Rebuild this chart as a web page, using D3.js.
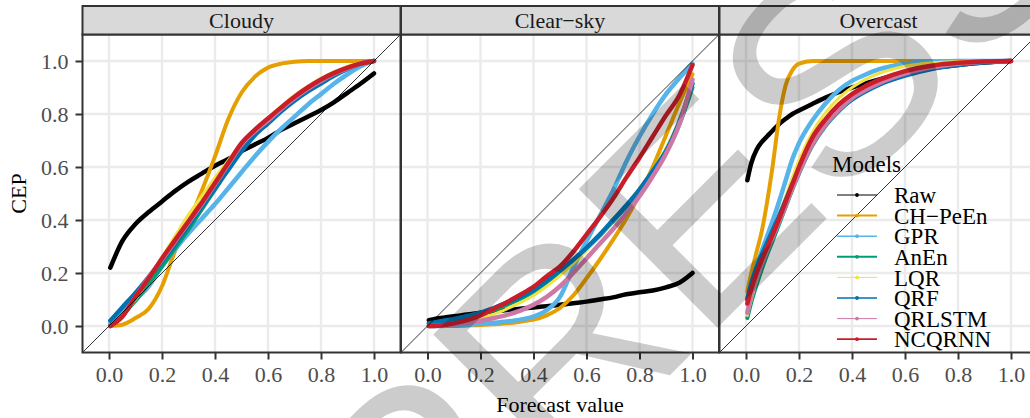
<!DOCTYPE html>
<html lang="en">
<head>
<meta charset="utf-8">
<title>CEP curves by sky condition</title>
<script src="https://cdn.jsdelivr.net/npm/d3@7"></script>
<style>
body { margin: 0; background: #fff; }
text { font-family: "Liberation Serif", "Times New Roman", serif; }
</style>
</head>
<body>
<script>

// facets and models
var facets = ["Cloudy", "Clear\u2212sky", "Overcast"];
var models = ["Raw", "CH\u2212PeEn", "GPR", "AnEn", "LQR", "QRF", "QRLSTM", "NCQRNN"];
var xTicks = [0, 0.2, 0.4, 0.6, 0.8, 1.0];
var yTicks = [0, 0.2, 0.4, 0.6, 0.8, 1.0];

// forecast values (x) for each facet
var xCloudy = [0.005, 0.05, 0.1, 0.15, 0.2, 0.25, 0.3, 0.35, 0.4, 0.45, 0.5, 0.55, 0.6, 0.65, 0.7, 0.75, 0.8, 0.85, 0.9, 0.95, 1.0];
var xClear = [0.005, 0.05, 0.1, 0.15, 0.2, 0.25, 0.3, 0.35, 0.4, 0.45, 0.5, 0.55, 0.6, 0.65, 0.7, 0.75, 0.8, 0.85, 0.9, 0.95, 1.0];
var xOvercast = [0.005, 0.02, 0.04, 0.06, 0.08, 0.1, 0.125, 0.15, 0.175, 0.2, 0.25, 0.3, 0.35, 0.4, 0.45, 0.5, 0.6, 0.7, 0.8, 0.9, 1.0];

// CEP values, Cloudy
var cloudyRaw    = [0.22, 0.32, 0.385, 0.43, 0.47, 0.51, 0.545, 0.575, 0.605, 0.63, 0.66, 0.685, 0.71, 0.74, 0.765, 0.79, 0.815, 0.845, 0.88, 0.915, 0.953];
var cloudyCH     = [0.0, 0.005, 0.03, 0.065, 0.15, 0.285, 0.39, 0.51, 0.64, 0.78, 0.88, 0.94, 0.975, 0.99, 0.997, 1, 1, 1, 1, 1, 1];
var cloudyGPR    = [0.01, 0.05, 0.1, 0.15, 0.225, 0.29, 0.35, 0.405, 0.46, 0.52, 0.58, 0.64, 0.695, 0.745, 0.79, 0.835, 0.875, 0.915, 0.95, 0.98, 1.0];
var cloudyAnEn   = [0.0, 0.04, 0.095, 0.16, 0.225, 0.295, 0.365, 0.44, 0.515, 0.59, 0.66, 0.72, 0.77, 0.815, 0.855, 0.89, 0.92, 0.95, 0.972, 0.99, 1.0];
var cloudyLQR    = [0.005, 0.04, 0.1, 0.18, 0.26, 0.34, 0.42, 0.49, 0.56, 0.625, 0.69, 0.74, 0.785, 0.83, 0.87, 0.905, 0.935, 0.96, 0.98, 0.993, 1.0];
var cloudyQRF    = [0.02, 0.07, 0.125, 0.185, 0.245, 0.31, 0.38, 0.45, 0.52, 0.59, 0.66, 0.72, 0.765, 0.81, 0.85, 0.885, 0.915, 0.945, 0.97, 0.99, 1.0];
var cloudyQRLSTM = [0.0, 0.04, 0.11, 0.185, 0.25, 0.32, 0.39, 0.46, 0.535, 0.61, 0.685, 0.735, 0.775, 0.82, 0.86, 0.895, 0.925, 0.952, 0.972, 0.99, 1.0];
var cloudyNCQRNN = [0.0, 0.035, 0.11, 0.18, 0.255, 0.325, 0.395, 0.465, 0.54, 0.615, 0.69, 0.74, 0.783, 0.825, 0.865, 0.9, 0.93, 0.955, 0.975, 0.99, 1.0];

// CEP values, Clear-sky
var clearRaw    = [0.022, 0.03, 0.037, 0.043, 0.05, 0.055, 0.06, 0.065, 0.07, 0.075, 0.08, 0.086, 0.092, 0.1, 0.108, 0.12, 0.127, 0.134, 0.146, 0.163, 0.2];
var clearCH     = [0, 0, 0, 0.002, 0.004, 0.007, 0.01, 0.016, 0.024, 0.04, 0.068, 0.115, 0.18, 0.25, 0.325, 0.405, 0.495, 0.6, 0.72, 0.84, 0.95];
var clearGPR    = [0, 0, 0.002, 0.005, 0.008, 0.012, 0.017, 0.024, 0.035, 0.06, 0.11, 0.22, 0.32, 0.415, 0.51, 0.62, 0.715, 0.8, 0.875, 0.935, 0.99];
var clearAnEn   = [0.005, 0.012, 0.02, 0.03, 0.043, 0.06, 0.08, 0.102, 0.128, 0.16, 0.2, 0.24, 0.29, 0.34, 0.395, 0.45, 0.51, 0.58, 0.66, 0.76, 0.9];
var clearLQR    = [0, 0.003, 0.009, 0.018, 0.03, 0.045, 0.065, 0.088, 0.115, 0.15, 0.19, 0.235, 0.285, 0.34, 0.395, 0.455, 0.52, 0.59, 0.67, 0.78, 0.93];
var clearQRF    = [0.01, 0.018, 0.027, 0.038, 0.05, 0.068, 0.088, 0.11, 0.136, 0.17, 0.21, 0.25, 0.295, 0.345, 0.4, 0.455, 0.515, 0.585, 0.66, 0.77, 0.915];
var clearQRLSTM = [0, 0.002, 0.006, 0.012, 0.02, 0.03, 0.042, 0.058, 0.08, 0.11, 0.15, 0.2, 0.255, 0.31, 0.365, 0.425, 0.49, 0.565, 0.65, 0.76, 0.93];
var clearNCQRNN = [0, 0.002, 0.01, 0.022, 0.04, 0.065, 0.09, 0.118, 0.148, 0.188, 0.225, 0.28, 0.345, 0.41, 0.48, 0.56, 0.635, 0.715, 0.795, 0.87, 0.985];

// CEP values, Overcast
var overRaw    = [0.55, 0.615, 0.665, 0.695, 0.716, 0.737, 0.762, 0.782, 0.8, 0.813, 0.838, 0.862, 0.882, 0.9, 0.915, 0.93, 0.955, 0.973, 0.985, 0.994, 1.0];
var overCH     = [0.13, 0.2, 0.28, 0.36, 0.47, 0.6, 0.785, 0.91, 0.965, 0.99, 1, 1, 1, 1, 1, 1, 1, 1, 1, 1, 1];
var overGPR    = [0.1, 0.16, 0.225, 0.285, 0.34, 0.395, 0.47, 0.55, 0.63, 0.69, 0.775, 0.84, 0.89, 0.925, 0.948, 0.968, 0.99, 0.998, 1, 1, 1];
var overAnEn   = [0.03, 0.09, 0.155, 0.215, 0.27, 0.32, 0.385, 0.45, 0.515, 0.575, 0.68, 0.755, 0.81, 0.855, 0.887, 0.912, 0.95, 0.975, 0.99, 0.997, 1];
var overLQR    = [0.04, 0.1, 0.17, 0.235, 0.295, 0.35, 0.42, 0.49, 0.56, 0.625, 0.73, 0.805, 0.86, 0.9, 0.93, 0.952, 0.98, 0.993, 0.998, 1, 1];
var overQRF    = [0.1, 0.16, 0.22, 0.27, 0.315, 0.36, 0.415, 0.475, 0.535, 0.59, 0.69, 0.76, 0.815, 0.855, 0.885, 0.91, 0.945, 0.97, 0.985, 0.995, 1];
var overQRLSTM = [0.05, 0.115, 0.18, 0.235, 0.285, 0.335, 0.395, 0.455, 0.52, 0.58, 0.685, 0.76, 0.815, 0.86, 0.89, 0.915, 0.952, 0.976, 0.99, 0.997, 1];
var overNCQRNN = [0.085, 0.14, 0.2, 0.25, 0.297, 0.343, 0.405, 0.47, 0.535, 0.6, 0.71, 0.78, 0.835, 0.875, 0.905, 0.928, 0.962, 0.982, 0.993, 0.998, 1];

var panelX = [xCloudy, xClear, xOvercast];
var panelY = [
	[cloudyRaw, cloudyCH, cloudyGPR, cloudyAnEn, cloudyLQR, cloudyQRF, cloudyQRLSTM, cloudyNCQRNN],
	[clearRaw, clearCH, clearGPR, clearAnEn, clearLQR, clearQRF, clearQRLSTM, clearNCQRNN],
	[overRaw, overCH, overGPR, overAnEn, overLQR, overQRF, overQRLSTM, overNCQRNN]
];

// styles
var colors = ["#000000", "#E69F00", "#56B4E9", "#009E73", "#F0E442", "#0072B2", "#CC79A7", "#C81E2A"];
var curveWidth = [4.5, 4, 4.5, 4, 3, 4.5, 4.5, 4.5];
var keyWidth = [1, 2, 1.4, 2, 1, 1.7, 1, 1.7];

//Width and height
var w = 1030;
var h = 418;
var panelW = 318, panelH = 318, panelTop = 34.5, stripTop = 6;
var panelLeft = [82.5, 401, 719.5];

var svg = d3.select("body")
	.append("svg")
	.attr("width", w)
	.attr("height", h);

var defs = svg.append("defs");

facets.forEach(function(name, p) {
	var x = d3.scaleLinear().domain([-0.1, 1.1]).range([panelLeft[p], panelLeft[p] + panelW]);
	var y = d3.scaleLinear().domain([-0.1, 1.1]).range([panelTop + panelH, panelTop]);

	var g = svg.append("g");

	defs.append("clipPath").attr("id", "clip" + p)
		.append("rect")
		.attr("x", panelLeft[p]).attr("y", panelTop)
		.attr("width", panelW).attr("height", panelH);

	//grid
	g.selectAll(".gx").data(xTicks).enter().append("line")
		.attr("x1", function(d) { return x(d); }).attr("x2", function(d) { return x(d); })
		.attr("y1", panelTop).attr("y2", panelTop + panelH)
		.style("stroke", "#EBEBEB").style("stroke-width", 2.4);
	g.selectAll(".gy").data(yTicks).enter().append("line")
		.attr("y1", function(d) { return y(d); }).attr("y2", function(d) { return y(d); })
		.attr("x1", panelLeft[p]).attr("x2", panelLeft[p] + panelW)
		.style("stroke", "#EBEBEB").style("stroke-width", 2.4);

	var plot = g.append("g").attr("clip-path", "url(#clip" + p + ")");

	var line = d3.line()
		.x(function(d) { return x(d[0]); })
		.y(function(d) { return y(d[1]); })
		.curve(d3.curveMonotoneX);

	models.forEach(function(m, i) {
		var pts = panelX[p].map(function(v, k) { return [v, panelY[p][i][k]]; });
		plot.append("path")
			.attr("d", line(pts))
			.style("fill", "none")
			.style("stroke", colors[i])
			.style("stroke-width", curveWidth[i])
			.style("stroke-linecap", "round")
			.style("stroke-linejoin", "round");
	});

	//diagonal y = x
	plot.append("line")
		.attr("x1", x(-0.1)).attr("y1", y(-0.1))
		.attr("x2", x(1.1)).attr("y2", y(1.1))
		.style("stroke", "#000").style("stroke-width", 0.8);

	//panel border
	g.append("rect")
		.attr("x", panelLeft[p]).attr("y", panelTop)
		.attr("width", panelW).attr("height", panelH)
		.style("fill", "none").style("stroke", "#333333").style("stroke-width", 2);

	//strip
	g.append("rect")
		.attr("x", panelLeft[p]).attr("y", stripTop)
		.attr("width", panelW).attr("height", panelTop - stripTop)
		.style("fill", "#D9D9D9").style("stroke", "#333333").style("stroke-width", 2);
	g.append("text")
		.attr("x", panelLeft[p] + panelW / 2).attr("y", (stripTop + panelTop) / 2)
		.attr("dy", "0.35em")
		.attr("text-anchor", "middle")
		.style("font-size", "22px").style("fill", "#1A1A1A")
		.text(name);

	//x axis
	var xa = g.append("g")
		.attr("transform", "translate(0," + (panelTop + panelH) + ")")
		.call(d3.axisBottom(x).tickValues(xTicks).tickFormat(d3.format(".1f")).tickSize(7).tickPadding(6.5));
	xa.select(".domain").remove();
	xa.selectAll("line").style("stroke", "#333333").style("stroke-width", 2);
	xa.selectAll("text").style("font-size", "22px").style("fill", "#4D4D4D")
		.style("font-family", "Liberation Serif, serif");

	if (p == 0) {
		var ya = g.append("g")
			.attr("transform", "translate(" + panelLeft[p] + ",0)")
			.call(d3.axisLeft(y).tickValues(yTicks).tickFormat(d3.format(".1f")).tickSize(7).tickPadding(7));
		ya.select(".domain").remove();
		ya.selectAll("line").style("stroke", "#333333").style("stroke-width", 2);
		ya.selectAll("text").style("font-size", "22px").style("fill", "#4D4D4D")
			.style("font-family", "Liberation Serif, serif");
	}
});

//axis titles
svg.append("text")
	.attr("transform", "translate(26," + (panelTop + panelH / 2) + ") rotate(-90)")
	.attr("text-anchor", "middle")
	.style("font-size", "22px")
	.text("CEP");

svg.append("text")
	.attr("x", (panelLeft[0] + panelLeft[2] + panelW) / 2)
	.attr("y", 412)
	.attr("text-anchor", "middle")
	.style("font-size", "22px")
	.text("Forecast value");

//legend inside Overcast panel
var legend = svg.append("g").attr("transform", "translate(832,0)");
legend.append("text")
	.attr("x", 0).attr("y", 172)
	.style("font-size", "23px")
	.text("Models");

var key = legend.selectAll(".key")
	.data(models)
	.enter()
	.append("g")
	.attr("transform", function(d, i) { return "translate(0," + (195 + i * 20.6) + ")"; });

key.append("line")
	.attr("x1", 5).attr("x2", 45)
	.style("stroke", function(d, i) { return colors[i]; })
	.style("stroke-width", function(d, i) { return keyWidth[i]; });
key.append("circle")
	.attr("cx", 25).attr("r", 1.9)
	.style("fill", function(d, i) { return colors[i]; });
key.append("text")
	.attr("x", 62).attr("dy", "0.36em")
	.style("font-size", "23px")
	.text(function(d) { return d; });

//watermark
svg.append("text")
	.attr("transform", "translate(690,210) rotate(-45)")
	.attr("text-anchor", "middle")
	.attr("dy", "0.36em")
	.style("font-family", "Liberation Sans, Arial, sans-serif")
	.style("font-size", "285px")
	.style("fill", "#000")
	.style("fill-opacity", 0.2)
	.text("PRESS");

</script>
</body>
</html>
